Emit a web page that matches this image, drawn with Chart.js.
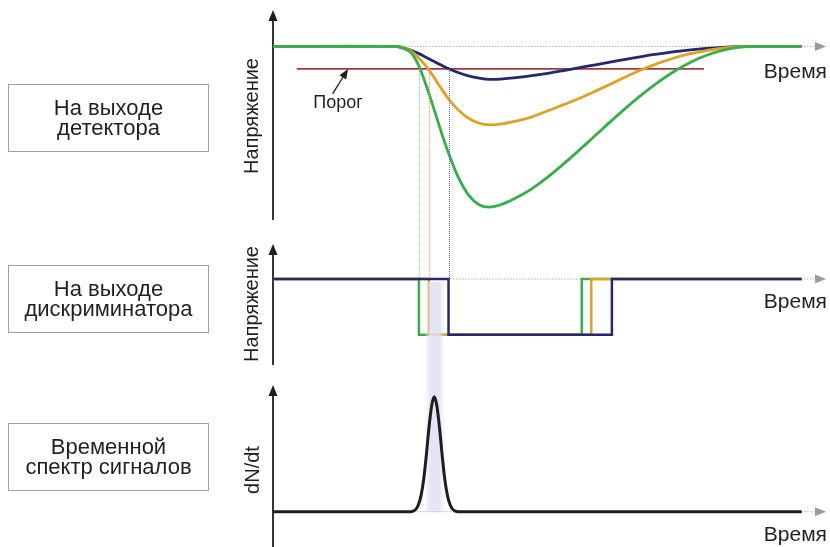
<!DOCTYPE html>
<html>
<head>
<meta charset="utf-8">
<title>Временной спектр сигналов</title>
<script src="https://cdn.jsdelivr.net/npm/chart.js"></script>
<style>
    body { margin: 0; background: #fff; }
    #page { position: relative; width: 830px; height: 547px; overflow: hidden; font-family: "Liberation Sans", Arial, sans-serif; color: #231f20; }
    #page canvas { position: absolute; left: 0; top: 0; }
    .box { position: absolute; left: 8px; width: 201px; border: 1px solid #a0a0a0; box-sizing: border-box; display: flex; align-items: center; justify-content: center; text-align: center; font-size: 22px; line-height: 20px; }
    .lbl { position: absolute; white-space: nowrap; line-height: 1; transform: translate(-50%, -50%); }
    .vlbl { position: absolute; white-space: nowrap; line-height: 1; font-size: 20px; transform: translate(-50%, -50%) rotate(-90deg); }
    .time { position: absolute; right: 3px; font-size: 21px; line-height: 1; transform: translateY(-50%); }
</style>
</head>
<body>
<div id="page">
    <canvas id="detector" width="830" height="547"></canvas>
    <canvas id="discriminator" width="830" height="547"></canvas>
    <canvas id="spectrum" width="830" height="547"></canvas>

    <div class="box" style="top:84px;height:68px">На выходе<br>детектора</div>
    <div class="box" style="top:265px;height:68px">На выходе<br>дискриминатора</div>
    <div class="box" style="top:423px;height:68px">Временной<br>спектр сигналов</div>

    <div class="vlbl" style="left:251px;top:116px">Напряжение</div>
    <div class="vlbl" style="left:251px;top:304px">Напряжение</div>
    <div class="vlbl" style="left:252px;top:470px">dN/dt</div>

    <div class="time" style="top:70px">Время</div>
    <div class="time" style="top:300px">Время</div>
    <div class="time" style="top:533px">Время</div>

    <div class="lbl" style="left:338px;top:102px;font-size:18px">Порог</div>
</div>

<script>
    // время в условных единицах (0 = начало развертки)
    const detTime   = [0, 23, 24.5, 26, 27.5, 29, 30.5, 32, 33.5, 35, 37, 39, 41, 43.5, 46, 49, 52, 55, 58, 61, 64, 67, 70, 73, 76, 79, 82, 85, 88, 91, 100];
    const detGreen  = [0, 0, -1.0, -3.5, -11.5, -24.5, -39.5, -55, -69, -81, -92.5, -98.5, -100, -98, -94.2, -88.5, -81.2, -73, -64.3, -55.3, -46.3, -37.6, -29.4, -21.9, -15.3, -9.8, -5.5, -2.4, -0.6, 0, 0];
    const detOrange = [0, 0, -0.6, -2.6, -7.0, -12.4, -19.5, -27.0, -33.8, -39.3, -44.7, -47.8, -48.8, -48.1, -46.4, -43.8, -40.0, -36.2, -32.2, -27.8, -23.2, -18.5, -14.0, -10.3, -7.0, -4.5, -2.6, -1.0, -0.2, 0, 0];
    const detBlue   = [0, 0, -0.7, -2.2, -4.3, -6.8, -9.4, -11.9, -14.2, -16.2, -18.3, -19.7, -20.5, -20.2, -19.4, -18.2, -16.7, -15.0, -13.2, -11.4, -9.6, -7.8, -6.1, -4.6, -3.2, -2.1, -1.2, -0.5, -0.1, 0, 0];
    const thresholdTime = [4.5, 81.5];
    const threshold = -14;

    // логические импульсы дискриминатора
    const discLevels     = [0, -1, 0, 0];
    const discGreenTime  = [0, 27.6, 58.4, 100];
    const discOrangeTime = [0, 29.5, 60.2, 100];
    const discBlueTime   = [0, 33.2, 64.1, 100];

    // временной спектр
    const specTime   = [0, 26, 26.5, 27, 27.5, 28, 28.5, 29, 29.5, 30, 30.5, 31, 31.5, 32, 32.5, 33, 33.5, 34, 34.5, 35, 100];
    const specCounts = [0, 0, 0.5, 2, 6, 14, 28, 49, 73, 92, 100, 92, 73, 49, 28, 14, 6, 2, 0.5, 0, 0];

    const GREEN = '#34b04b', ORANGE = '#dfa12a', NAVY = '#25286d', RED = '#a33a3f', INK = '#1e1e1e';

    const pts = (xs, ys) => xs.map((x, i) => ({x: x, y: ys[i]}));

    function panelOptions(padding, yMin, yMax) {
        return {
            responsive: false,
            animation: false,
            events: [],
            layout: { padding: Object.assign({left: 273, right: 4, top: 0, bottom: 0}, padding) },
            plugins: { legend: { display: false }, tooltip: { enabled: false } },
            elements: { point: { radius: 0 }, line: { fill: false } },
            scales: {
                x: { type: 'linear', min: 0, max: 104.6, display: false },
                y: { type: 'linear', min: yMin, max: yMax, display: false }
            }
        };
    }

    // оси со стрелками: вертикальная черная, горизонтальная серая пунктирная
    const axesPlugin = {
        id: 'axesArrows',
        beforeDatasetsDraw(chart) {
            const ctx = chart.ctx, a = chart.chartArea;
            const y0 = chart.scales.y.getPixelForValue(0);
            ctx.save();
            ctx.strokeStyle = '#b4b4b4';
            ctx.lineWidth = 1;
            ctx.setLineDash([1.5, 1.5]);
            ctx.beginPath();
            ctx.moveTo(a.left, y0);
            ctx.lineTo(a.right - 10, y0);
            ctx.stroke();
            ctx.setLineDash([]);
            ctx.fillStyle = '#9b9b9b';
            ctx.beginPath();
            ctx.moveTo(a.right, y0);
            ctx.lineTo(a.right - 11, y0 - 4.5);
            ctx.lineTo(a.right - 11, y0 + 4.5);
            ctx.closePath();
            ctx.fill();

            ctx.strokeStyle = INK;
            ctx.fillStyle = INK;
            ctx.lineWidth = 1.8;
            ctx.beginPath();
            ctx.moveTo(a.left, a.bottom);
            ctx.lineTo(a.left, a.top + 8);
            ctx.stroke();
            ctx.beginPath();
            ctx.moveTo(a.left, a.top);
            ctx.lineTo(a.left - 4.5, a.top + 11);
            ctx.lineTo(a.left + 4.5, a.top + 11);
            ctx.closePath();
            ctx.fill();
            ctx.restore();
        }
    };

    // стрелка к линии порога
    const thresholdNote = {
        id: 'thresholdNote',
        afterDatasetsDraw(chart) {
            const ctx = chart.ctx;
            const tipX = chart.scales.x.getPixelForValue(14.2);
            const tipY = chart.scales.y.getPixelForValue(threshold);
            const tailX = tipX - 15.5, tailY = tipY + 25;
            const ang = Math.atan2(tipY - tailY, tipX - tailX);
            ctx.save();
            ctx.strokeStyle = INK;
            ctx.fillStyle = INK;
            ctx.lineWidth = 1.3;
            ctx.beginPath();
            ctx.moveTo(tailX, tailY);
            ctx.lineTo(tipX - 8 * Math.cos(ang), tipY - 8 * Math.sin(ang));
            ctx.stroke();
            ctx.beginPath();
            ctx.moveTo(tipX, tipY);
            ctx.lineTo(tipX - 10 * Math.cos(ang) + 4 * Math.sin(ang), tipY - 10 * Math.sin(ang) - 4 * Math.cos(ang));
            ctx.lineTo(tipX - 10 * Math.cos(ang) - 4 * Math.sin(ang), tipY - 10 * Math.sin(ang) + 4 * Math.cos(ang));
            ctx.closePath();
            ctx.fill();
            ctx.restore();
        }
    };

    const lineStyle = { tension: 0.4, pointRadius: 0, borderWidth: 2.8 };

    const detectorChart = new Chart(document.getElementById('detector'), {
        type: 'line',
        data: {
            datasets: [
                Object.assign({ data: pts(detTime, detGreen), borderColor: GREEN }, lineStyle),
                Object.assign({ data: pts(detTime, detOrange), borderColor: ORANGE }, lineStyle),
                Object.assign({ data: pts(detTime, detBlue), borderColor: NAVY }, lineStyle),
                { data: thresholdTime.map(t => ({x: t, y: threshold})), borderColor: RED, borderWidth: 1.8, pointRadius: 0 }
            ]
        },
        options: panelOptions({ top: 10, bottom: 327 }, -108, 22.7),
        plugins: [axesPlugin, thresholdNote]
    });

    // пунктирные проекции моментов пересечения порога
    const connectors = {
        id: 'connectors',
        beforeDatasetsDraw(chart) {
            const ctx = chart.ctx;
            const top = detectorChart.scales.y.getPixelForValue(threshold);
            const bottom = chart.scales.y.getPixelForValue(0);
            ctx.save();
            ctx.lineWidth = 1;
            ctx.setLineDash([1, 1]);
            chart.data.datasets.forEach(ds => {
                const px = Math.round(chart.scales.x.getPixelForValue(ds.data[1].x)) + 0.5;
                ctx.strokeStyle = ds.guideColor;
                ctx.beginPath();
                ctx.moveTo(px, top);
                ctx.lineTo(px, bottom);
                ctx.stroke();
            });
            ctx.restore();
        }
    };

    const stepStyle = { stepped: 'before', pointRadius: 0, borderWidth: 2.5 };

    const discChart = new Chart(document.getElementById('discriminator'), {
        type: 'line',
        data: {
            datasets: [
                Object.assign({ data: pts(discBlueTime, discLevels), borderColor: NAVY, guideColor: '#6d70b4' }, stepStyle),
                Object.assign({ data: pts(discOrangeTime, discLevels), borderColor: ORANGE, guideColor: '#e6ac3c' }, stepStyle),
                Object.assign({ data: pts(discGreenTime, discLevels), borderColor: GREEN, guideColor: '#82cc8e' }, stepStyle)
            ]
        },
        options: panelOptions({ top: 244, bottom: 182 }, -1.544, 0.628),
        plugins: [connectors, axesPlugin]
    });

    // размытая полоса под пиком спектра
    const glow = {
        id: 'glow',
        beforeDatasetsDraw(chart) {
            const ctx = chart.ctx, x = chart.scales.x;
            const left = x.getPixelForValue(28.6), right = x.getPixelForValue(32.6);
            const top = discChart.scales.y.getPixelForValue(0) + 3;
            const bottom = chart.scales.y.getPixelForValue(0);
            const g = ctx.createLinearGradient(left, 0, right, 0);
            g.addColorStop(0, 'rgba(224,224,241,0)');
            g.addColorStop(0.3, 'rgba(224,224,241,0.85)');
            g.addColorStop(0.7, 'rgba(224,224,241,0.85)');
            g.addColorStop(1, 'rgba(224,224,241,0)');
            ctx.save();
            ctx.fillStyle = g;
            ctx.fillRect(left, top, right - left, bottom - top);
            ctx.restore();
        }
    };

    new Chart(document.getElementById('spectrum'), {
        type: 'line',
        data: {
            datasets: [
                { data: pts(specTime, specCounts), borderColor: INK, borderWidth: 3, pointRadius: 0, cubicInterpolationMode: 'monotone' }
            ]
        },
        options: panelOptions({ top: 385, bottom: 0 }, -30.7, 110.2),
        plugins: [glow, axesPlugin]
    });
</script>
</body>
</html>
